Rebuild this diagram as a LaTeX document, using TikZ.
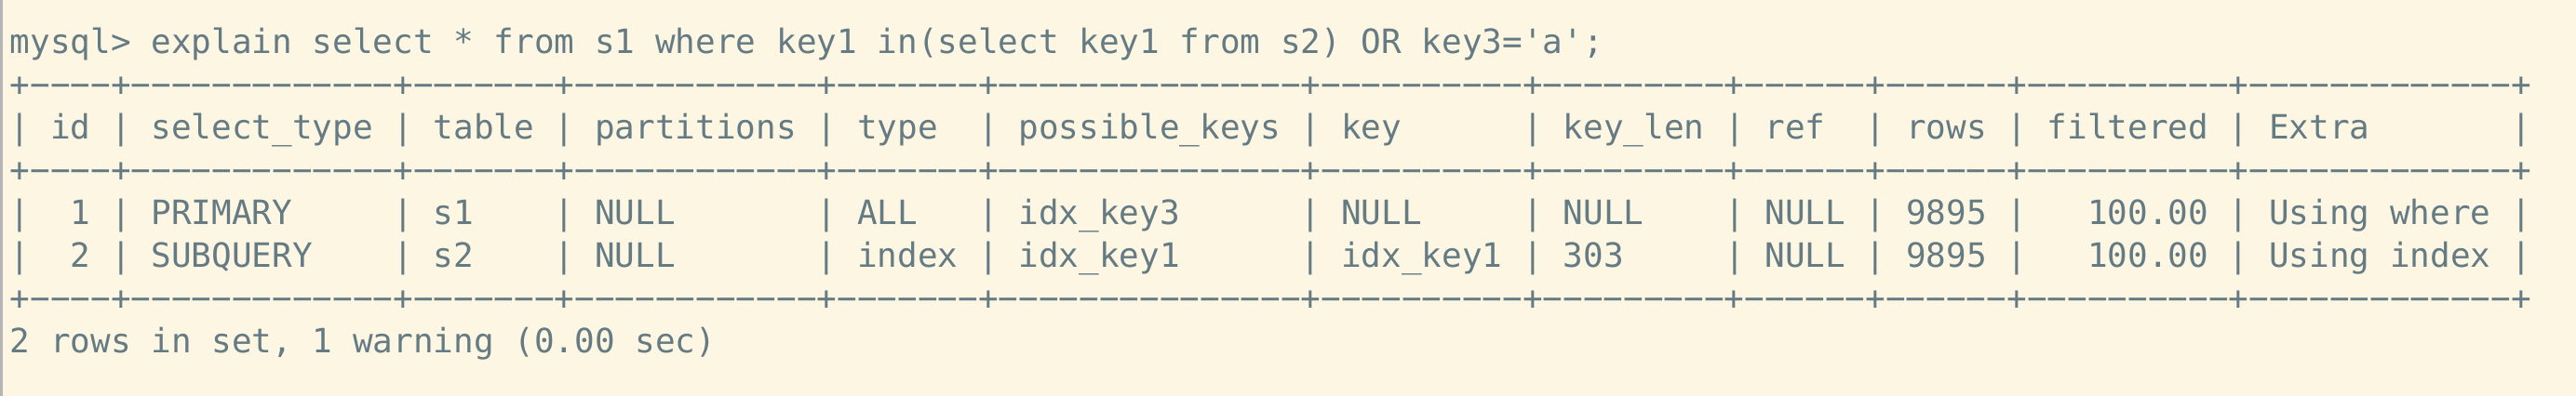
\documentclass[tikz,border=0pt]{standalone}
\usepackage{fontspec}
\setmonofont{DejaVu Sans Mono}
\definecolor{bgcol}{HTML}{FDF6E3}
\definecolor{txt}{HTML}{657B83}
\definecolor{edge}{HTML}{B6B6B6}
\newlength\cw
\setlength{\cw}{10.8369pt}
\newcommand\termfont{\ttfamily\fontsize{18pt}{23pt}\selectfont}
\newcommand\rep[1]{\ifnum#1>0 \symbol{"2212}\expandafter\rep\expandafter{\number\numexpr#1-1\relax}\fi}
\newcommand\cellL[2]{\makebox[#1\cw][l]{\ #2}|}
\newcommand\cellR[2]{\makebox[#1\cw][r]{#2\ }|}
\newcommand\bord{+\rep{4}+\rep{13}+\rep{7}+\rep{12}+\rep{7}+\rep{15}+\rep{10}+\rep{9}+\rep{6}+\rep{6}+\rep{10}+\rep{13}+}
\tikzset{term/.style={font=\termfont, text=txt, inner sep=0pt, anchor=base west}}
\begin{document}
\begin{tikzpicture}[x=1pt,y=1pt]
\fill[bgcol] (0,0) rectangle (1384,-213);
\useasboundingbox (0,0) rectangle (1384,-213);
\fill[edge] (0,0) rectangle (1.3,-213);
\node[term] (l0) at (5.2,-28.75) {mysql> explain select * from s1 where key1 in(select key1 from s2) OR key3='a';};
\node[term] (l1) at (5.2,-51.75) {\bord};
\node[term] (l2) at (5.2,-74.75) {|\cellL{4}{id}\cellL{13}{select\_type}\cellL{7}{table}\cellL{12}{partitions}\cellL{7}{type}\cellL{15}{possible\_keys}\cellL{10}{key}\cellL{9}{key\_len}\cellL{6}{ref}\cellL{6}{rows}\cellL{10}{filtered}\cellL{13}{Extra}};
\node[term] (l3) at (5.2,-97.75) {\bord};
\node[term] (l4) at (5.2,-120.75) {|\cellR{4}{1}\cellL{13}{PRIMARY}\cellL{7}{s1}\cellL{12}{NULL}\cellL{7}{ALL}\cellL{15}{idx\_key3}\cellL{10}{NULL}\cellL{9}{NULL}\cellL{6}{NULL}\cellL{6}{9895}\cellR{10}{100.00}\cellL{13}{Using where}};
\node[term] (l5) at (5.2,-143.75) {|\cellR{4}{2}\cellL{13}{SUBQUERY}\cellL{7}{s2}\cellL{12}{NULL}\cellL{7}{index}\cellL{15}{idx\_key1}\cellL{10}{idx\_key1}\cellL{9}{303}\cellL{6}{NULL}\cellL{6}{9895}\cellR{10}{100.00}\cellL{13}{Using index}};
\node[term] (l6) at (5.2,-166.75) {\bord};
\node[term] (l7) at (5.2,-189.75) {2 rows in set, 1 warning (0.00 sec)};
\end{tikzpicture}
\end{document}
